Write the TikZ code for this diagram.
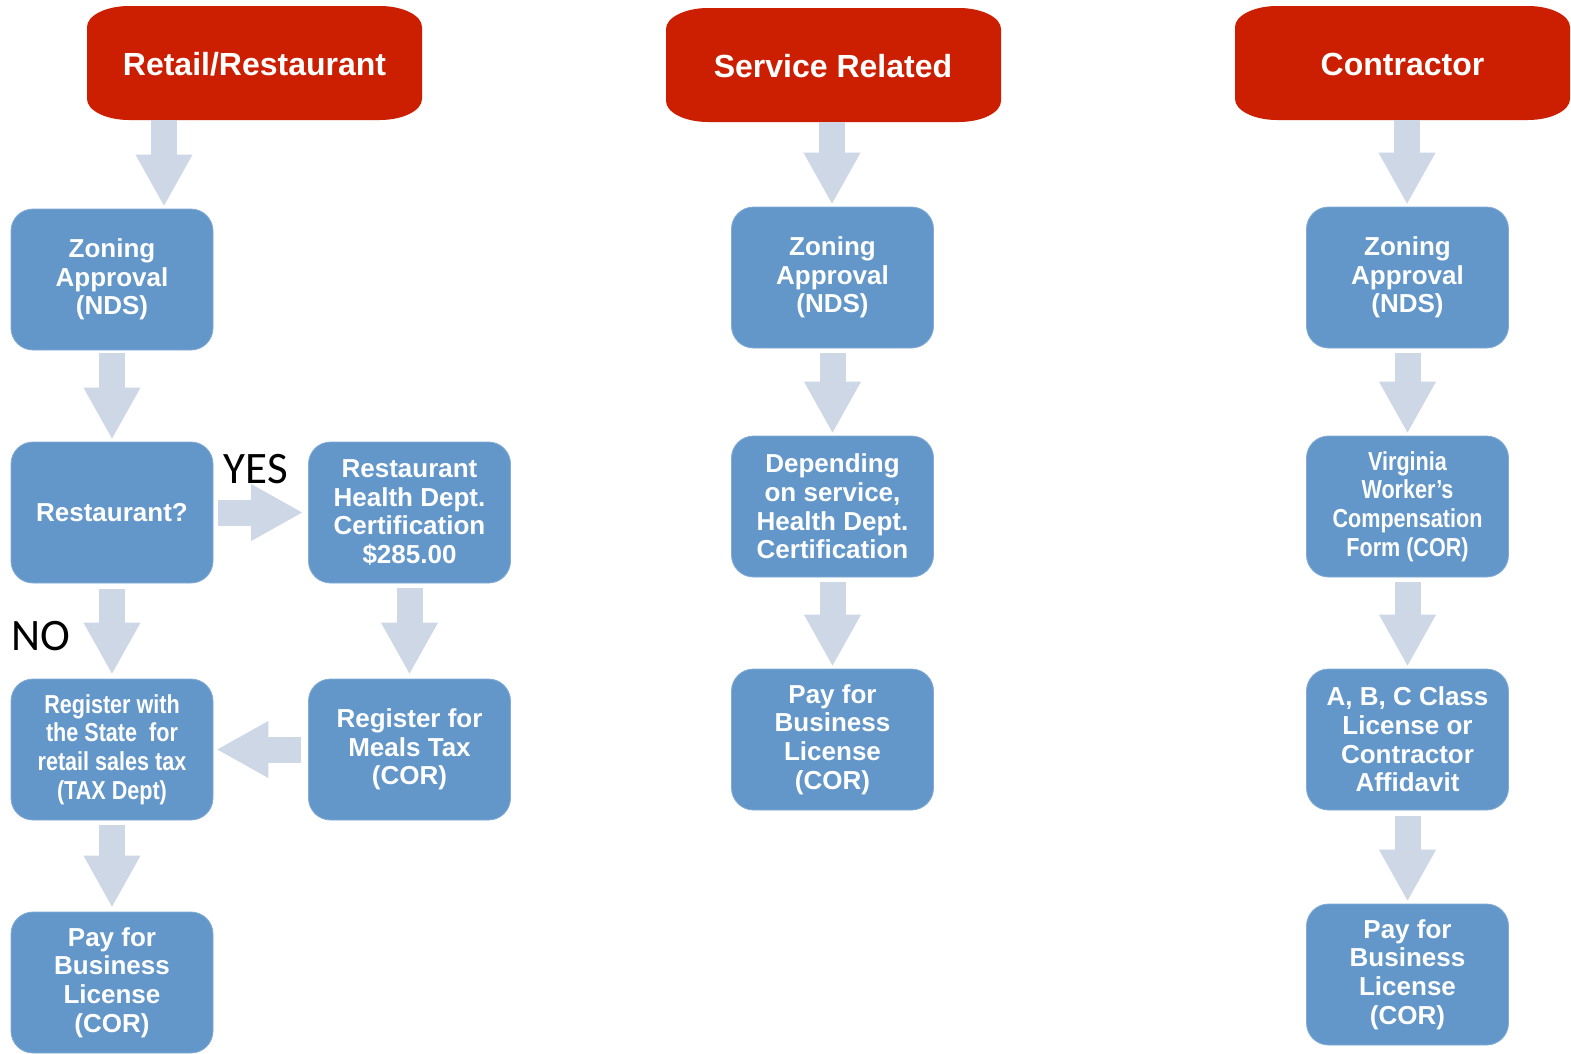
\documentclass[tikz,border=0pt]{standalone}
\usepackage{fontspec}
\setmainfont{Liberation Sans}
\newfontfamily\narrowbold[FakeStretch=0.83]{Liberation Sans Bold}
\newfontfamily\calib{Carlito}
\usetikzlibrary{arrows.meta,calc}
\definecolor{boxblue}{HTML}{6397CA}
\definecolor{headred}{HTML}{CC1E00}
\definecolor{arrowc}{HTML}{CDD7E6}
\newcommand{\headshape}[4]{% x0 y0 x1 y1
  \fill[headred] (#1,#2+21) .. controls (#1,#2+9.5) and (#1+19,#2) .. (#1+42,#2)
    -- (#3-42,#2) .. controls (#3-19,#2) and (#3,#2+9.5) .. (#3,#2+21)
    -- (#3,#4-21) .. controls (#3,#4-9.5) and (#3-19,#4) .. (#3-42,#4)
    -- (#1+42,#4) .. controls (#1+19,#4) and (#1,#4-9.5) .. (#1,#4-21) -- cycle;}
\tikzset{
  stepbox/.style={fill=boxblue, draw=boxblue!80!white, line width=0.8pt, rounded corners=22pt,
    minimum width=202pt, minimum height=141pt, inner sep=0pt, align=center,
    text=white, font=\fontsize{26}{28.7}\selectfont\bfseries},
  narrowbox/.style={stepbox, font=\fontsize{26}{28.7}\selectfont\narrowbold},
  headtext/.style={text=white, font=\fontsize{32}{36}\selectfont\bfseries, inner sep=0pt},
  yesno/.style={text=black, font=\fontsize{45}{50}\selectfont\calib, inner sep=0pt},
  barrow/.style={draw=arrowc, line width=26pt, -{Triangle[width=53pt,length=52pt]},
    shorten <=3pt, shorten >=2pt},
}
\begin{document}
\begin{tikzpicture}[x=1pt,y=-1pt]
\useasboundingbox (0,0) rectangle (1571,1053);
\fill[white] (0,0) rectangle (1571,1053);
% headers
\headshape{87}{6}{422}{120}
\headshape{666}{8}{1001}{122}
\headshape{1235}{6}{1570}{120}
\node[headtext] (h1) at (254.5,64) {Retail/Restaurant};
\node[headtext] (h2) at (833,66) {Service Related};
\node[headtext] (h3) at (1402.5,64) {Contractor};
\coordinate (h1b) at (164,120);
\coordinate (h2b) at (832,122);
\coordinate (h3b) at (1407,120);
% column 1
\node[stepbox] (z1) at (112,279.5) {Zoning\\Approval\\(NDS)};
\node[stepbox] (r1) at (112,512.5) {Restaurant?};
\node[narrowbox] (s1) at (112,749.5) {Register with\\the State~ for\\retail sales tax\\(TAX Dept)};
\node[stepbox] (p1) at (112,982.5) {Pay for\\Business\\License\\(COR)};
\node[stepbox] (hd) at (409.5,512.5) {Restaurant\\Health Dept.\\Certification\\\$285.00};
\node[stepbox] (mt) at (409.5,749.5) {Register for\\Meals Tax\\(COR)};
% column 2
\node[stepbox] (z2) at (832.5,277.5) {Zoning\\Approval\\(NDS)};
\node[stepbox] (d2) at (832.5,506.5) {Depending\\on service,\\Health Dept.\\Certification};
\node[stepbox] (p2) at (832.5,739.5) {Pay for\\Business\\License\\(COR)};
% column 3
\node[stepbox] (z3) at (1407.5,277.5) {Zoning\\Approval\\(NDS)};
\node[narrowbox] (v3) at (1407.5,506.5) {Virginia\\Worker’s\\Compensation\\Form (COR)};
\node[stepbox] (a3) at (1407.5,739.5) {A, B, C Class\\License or\\Contractor\\Affidavit};
\node[stepbox] (p3) at (1407.5,974.5) {Pay for\\Business\\License\\(COR)};
% labels
\node[yesno] (yes) at (256,469) {YES};
\node[yesno] (no) at (41,636) {NO};
% arrows
\draw[barrow, shorten <=0pt] (h1b) -- (h1b |- z1.north);
\draw[barrow] (z1) -- (r1);
\draw[barrow, shorten <=6pt, shorten >=4pt] (r1) -- (s1);
\draw[barrow, shorten <=5pt, shorten >=4pt] (s1) -- (p1);
\draw[barrow, shorten <=5pt, shorten >=5pt] (r1) -- (hd);
\draw[barrow, shorten <=5pt, shorten >=4pt] (hd) -- (mt);
\draw[barrow, shorten <=7pt, shorten >=3pt] (mt) -- (s1);
\draw[barrow, shorten <=0pt] (h2b) -- (h2b |- z2.north);
\draw[barrow, shorten <=5pt] (z2) -- (d2);
\draw[barrow, shorten <=5pt] (d2) -- (p2);
\draw[barrow, shorten <=0pt] (h3b) -- (h3b |- z3.north);
\draw[barrow, shorten <=5pt] (z3) -- (v3);
\draw[barrow, shorten <=5pt] (v3) -- (a3);
\draw[barrow, shorten <=6pt] (a3) -- (p3);
\end{tikzpicture}
\end{document}
